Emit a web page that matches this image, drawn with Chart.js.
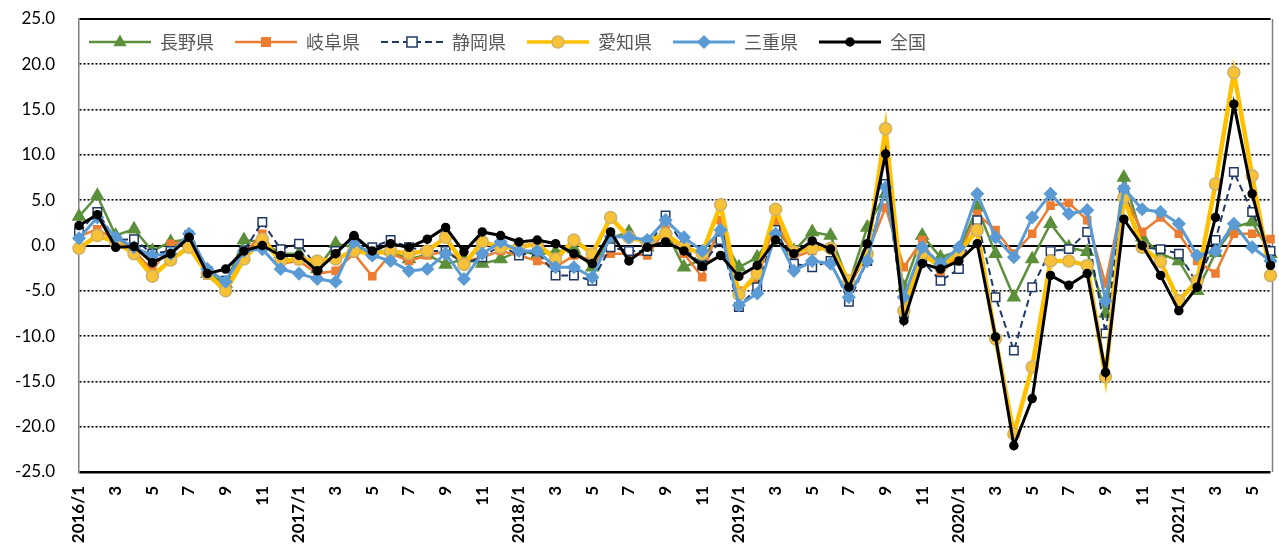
<!DOCTYPE html>
<html lang="ja">
<head>
<meta charset="utf-8">
<title>前年同月比</title>
<script src="https://cdn.jsdelivr.net/npm/chart.js@4.4.1/dist/chart.umd.min.js"></script>
<style>
  html, body { margin: 0; padding: 0; background: #fff; }
  #wrap { width: 1279px; height: 552px; position: relative; }
</style>
</head>
<body>
<div id="wrap"><canvas id="chart"></canvas></div>
<script>
const months = [
  '2016/1', '2', '3', '4', '5', '6', '7', '8', '9', '10', '11', '12',
  '2017/1', '2', '3', '4', '5', '6', '7', '8', '9', '10', '11', '12',
  '2018/1', '2', '3', '4', '5', '6', '7', '8', '9', '10', '11', '12',
  '2019/1', '2', '3', '4', '5', '6', '7', '8', '9', '10', '11', '12',
  '2020/1', '2', '3', '4', '5', '6', '7', '8', '9', '10', '11', '12',
  '2021/1', '2', '3', '4', '5', '6'
];

const nagano = [
  3.2, 5.5, 1.1, 1.8, -0.6, 0.4, 0.7, -3.1, -4.2, 0.6, 0.4, -0.9,
  -0.9, -2.6, 0.2, -0.2, -0.6, -0.6, -1.5, -1.0, -2.1, -1.5, -2.0, -1.5,
  -0.6, -1.0, -0.7, -0.4, -2.4, 0.8, 1.5, -0.2, 1.7, -2.4, -1.5, 1.3,
  -2.4, -1.3, 1.8, -0.6, 1.5, 1.1, -4.2, 2.0, 5.7, -4.6, 1.1, -1.3,
  -0.6, 4.2, -0.9, -5.7, -1.5, 2.4, -0.2, -0.7, -7.5, 7.5, 0.9, -0.9,
  -1.7, -5.0, -0.8, 2.0, 2.6, -0.9
];
const gifu = [
  1.0, 1.8, 0.6, -0.5, -2.8, 0.2, 0.5, -3.3, -5.0, -0.9, 1.3, -2.0,
  -1.7, -3.1, -2.8, -0.9, -3.4, -0.9, -1.7, -1.1, -0.6, -1.8, -1.3, -0.6,
  -1.1, -1.7, -2.4, -1.1, -1.6, -0.9, -0.9, -1.1, 1.7, -0.9, -3.5, 2.8,
  -5.0, -3.8, 2.8, -1.3, -0.6, -0.2, -4.6, -0.9, 4.2, -2.4, 0.6, -3.1,
  -1.1, 3.5, 1.7, -0.9, 1.3, 4.4, 4.7, 2.8, -4.2, 5.7, 1.5, 3.1,
  1.3, -1.7, -3.1, 1.3, 1.3, 0.7
];
const shizuoka = [
  1.5, 3.7, 0.6, 0.7, -0.9, -0.6, 1.1, -2.8, -3.9, -0.6, 2.6, -0.4,
  0.2, -2.4, -0.6, 0.6, -0.2, 0.6, -0.2, -0.6, -0.6, -2.0, -1.3, 0.0,
  -1.1, -0.6, -3.3, -3.3, -3.9, -0.2, -0.6, -0.6, 3.3, -0.2, -2.2, 0.6,
  -6.8, -4.6, 1.7, -2.0, -2.4, -1.7, -6.2, -1.7, 6.8, -7.5, -1.7, -3.9,
  -2.6, 2.8, -5.7, -11.6, -4.6, -0.6, -0.4, 1.5, -9.7, 6.1, -0.2, -0.4,
  -0.9, -4.2, 0.6, 8.1, 3.7, -0.6
];
const aichi = [
  -0.3, 1.1, 0.4, -0.9, -3.4, -1.6, -0.2, -3.1, -5.0, -1.5, 0.7, -1.7,
  -1.5, -1.7, -1.5, -0.6, -0.9, -0.6, -0.9, -0.6, 0.9, -2.1, 0.4, -0.2,
  -0.2, 0.2, -1.5, 0.6, -0.9, 3.1, 0.9, 0.4, 1.3, -0.2, -0.9, 4.5,
  -5.4, -3.1, 4.0, -0.7, -0.3, -0.3, -3.9, -0.9, 12.9, -7.2, -0.9, -2.4,
  -0.8, 1.7, -10.3, -20.8, -13.4, -1.7, -1.7, -2.2, -14.5, 5.3, -0.2, -1.8,
  -6.1, -3.9, 6.8, 19.1, 7.7, -3.3
];
const mie = [
  0.8, 3.1, 0.9, -0.2, -1.1, -0.9, 1.3, -2.6, -4.0, -0.6, -0.4, -2.6,
  -3.1, -3.7, -4.0, 0.4, -1.1, -1.7, -2.8, -2.6, -0.9, -3.7, -0.9, 0.4,
  -0.6, -0.6, -2.4, -2.4, -3.5, 1.0, 0.9, 0.6, 2.8, 0.9, -0.6, 1.7,
  -6.6, -5.3, 1.3, -2.8, -1.7, -2.0, -5.7, -1.7, 6.4, -5.7, -0.2, -2.0,
  -0.2, 5.7, 0.9, -1.3, 3.1, 5.7, 3.5, 3.9, -6.1, 6.3, 4.0, 3.7,
  2.4, -1.1, -0.6, 2.4, -0.2, -1.7
];
const zenkoku = [
  2.2, 3.4, -0.2, -0.1, -1.9, -0.9, 0.9, -3.1, -2.6, -0.6, 0.0, -1.1,
  -1.1, -2.8, -0.9, 1.1, -0.6, 0.2, -0.2, 0.7, 2.0, -0.7, 1.5, 1.1,
  0.4, 0.6, 0.2, -0.9, -2.0, 1.5, -1.7, -0.2, 0.4, -0.6, -2.3, -1.1,
  -3.4, -2.2, 0.6, -0.9, 0.5, -0.4, -4.6, 0.2, 10.1, -8.3, -2.0, -2.6,
  -1.7, 0.2, -10.1, -22.1, -16.9, -3.3, -4.4, -3.1, -14.0, 2.9, 0.0, -3.3,
  -7.2, -4.6, 3.1, 15.6, 5.7, -2.2
];

const seriesNames = ['長野県', '岐阜県', '静岡県', '愛知県', '三重県', '全国'];
const seriesData = [nagano, gifu, shizuoka, aichi, mie, zenkoku];

// line + marker look of each series
const styles = [
  { color: '#5B8F3A', width: 2.5, dash: [], marker: 'triangle', r: 7, fill: '#5B8F3A', stroke: '#5B8F3A' },
  { color: '#ED7D31', width: 2.5, dash: [], marker: 'rect', r: 5, fill: '#ED7D31', stroke: '#ED7D31' },
  { color: '#203864', width: 2, dash: [7, 4], marker: 'rect', r: 6, fill: '#ffffff', stroke: '#203864' },
  { color: '#FFC000', width: 4.5, dash: [], marker: 'circle', r: 6, fill: '#F7C236', stroke: '#CDB06A' },
  { color: '#5B9BD5', width: 3, dash: [], marker: 'rectRot', r: 6, fill: '#5B9BD5', stroke: '#5B9BD5' },
  { color: '#000000', width: 3, dash: [], marker: 'circle', r: 4, fill: '#000000', stroke: '#000000' }
];

function makeIcon(s) {
  const c = document.createElement('canvas');
  c.width = 62; c.height = 18;
  const g = c.getContext('2d');
  g.strokeStyle = s.color; g.lineWidth = Math.min(s.width, 3.5); g.setLineDash(s.dash);
  g.beginPath(); g.moveTo(0, 9); g.lineTo(62, 9); g.stroke();
  g.setLineDash([]);
  g.fillStyle = s.fill; g.strokeStyle = s.stroke; g.lineWidth = 1.5;
  const cx = 31, cy = 9, r = Math.min(s.r, 6);
  g.beginPath();
  if (s.marker === 'triangle') {
    g.moveTo(cx, cy - r); g.lineTo(cx + r * 0.9, cy + r * 0.6); g.lineTo(cx - r * 0.9, cy + r * 0.6); g.closePath();
  } else if (s.marker === 'rect') {
    g.rect(cx - r * 0.85, cy - r * 0.85, r * 1.7, r * 1.7);
  } else if (s.marker === 'rectRot') {
    g.moveTo(cx, cy - r); g.lineTo(cx + r, cy); g.lineTo(cx, cy + r); g.lineTo(cx - r, cy); g.closePath();
  } else {
    g.arc(cx, cy, r, 0, Math.PI * 2);
  }
  g.fill(); g.stroke();
  return c;
}
const legendIcons = styles.map(makeIcon);

const datasets = seriesNames.map((name, i) => ({
  label: name,
  data: seriesData[i],
  borderColor: styles[i].color,
  backgroundColor: styles[i].fill,
  borderWidth: styles[i].width,
  borderDash: styles[i].dash,
  pointStyle: styles[i].marker,
  pointRadius: styles[i].r,
  pointBackgroundColor: styles[i].fill,
  pointBorderColor: styles[i].stroke,
  pointBorderWidth: 1.5,
  tension: 0,
  order: seriesNames.length - i
}));

// legend sits inside the plot, top-left, like the spreadsheet original
const legendInPlot = {
  id: 'legendInPlot',
  afterInit(chart) {
    const lg = chart.legend;
    const fit = lg.fit;
    lg.fit = function () { fit.call(this); this.height = 0; };
  },
  afterLayout(chart) {
    const lg = chart.legend;
    lg.left = 68; lg.right = 1270; lg.top = 12; lg.bottom = 70;
  }
};

const plotFrame = {
  id: 'plotFrame',
  beforeDatasetsDraw(chart) {
    const { ctx, chartArea: a } = chart;
    ctx.save();
    ctx.strokeStyle = '#7f7f7f';
    ctx.lineWidth = 1.5;
    ctx.beginPath();
    ctx.moveTo(a.right + 2, a.top); ctx.lineTo(a.right + 2, a.bottom);
    ctx.stroke();
    ctx.restore();
  }
};

new Chart(document.getElementById('chart'), {
  type: 'line',
  data: { labels: months, datasets },
  plugins: [legendInPlot, plotFrame],
  options: {
    responsive: true,
    maintainAspectRatio: false,
    animation: false,
    layout: { padding: { top: 19, right: 4, left: 0, bottom: 0 } },
    plugins: {
      tooltip: { enabled: false },
      legend: {
        position: 'top',
        align: 'start',
        labels: {
          usePointStyle: true,
          pointStyleWidth: 62,
          padding: 21,
          color: '#595959',
          font: { family: '"Noto Sans CJK JP", "Noto Sans", sans-serif', size: 18 },
          generateLabels(chart) {
            const items = Chart.defaults.plugins.legend.labels.generateLabels(chart);
            items.forEach(it => { it.pointStyle = legendIcons[it.datasetIndex]; });
            return items.sort((a, b) => a.datasetIndex - b.datasetIndex);
          }
        }
      }
    },
    scales: {
      x: {
        offset: false,
        grid: { display: false, drawTicks: false },
        border: { display: false },
        afterFit(scale) {
          scale.height = 80;
          scale.paddingLeft = 0;
          scale.paddingRight = 0;
        },
        ticks: {
          autoSkip: false,
          maxRotation: 90,
          minRotation: 90,
          padding: 14,
          color: '#000',
          font: { family: 'Lato, "Liberation Sans", sans-serif', size: 17, weight: 'bold' },
          callback: (v, i) => (i % 2 === 0 ? months[i] : null)
        }
      },
      y: {
        min: -25,
        max: 25,
        afterFit(scale) {
          scale.width = 79;
          scale.paddingTop = 0;
          scale.paddingBottom = 0;
        },
        grid: {
          drawTicks: false,
          color: '#000',
          lineWidth: c => (c.tick && c.tick.value === -25 ? 2.5 : (c.tick && c.tick.value % 25 === 0 ? 2 : 1.6))
        },
        border: {
          display: true,
          color: '#7f7f7f',
          width: 1.5,
          dash: c => (c.tick && c.tick.value % 25 !== 0 ? [2, 2] : [])
        },
        ticks: {
          stepSize: 5,
          padding: 24,
          color: '#000',
          font: { family: 'Lato, "Liberation Sans", sans-serif', size: 17 },
          callback: v => v.toFixed(1)
        }
      }
    }
  }
});
</script>
</body>
</html>
